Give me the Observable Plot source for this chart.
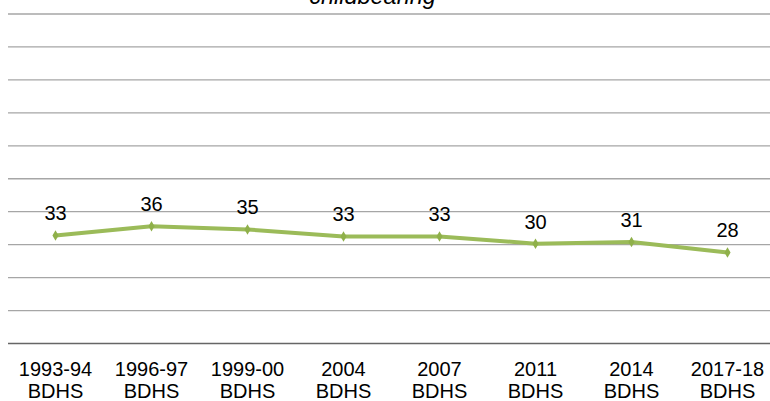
<!DOCTYPE html>
<html><head><meta charset="utf-8">
<script src="https://cdn.jsdelivr.net/npm/d3@7"></script>
<script src="https://cdn.jsdelivr.net/npm/@observablehq/plot@0.6"></script>
<style>body{margin:0;background:#fff;overflow:hidden}</style>
</head><body><div id="chart"></div>
<script>
const surveys = ["1993-94","1996-97","1999-00","2004","2007","2011","2014","2017-18"];
const values = [32.8, 35.6, 34.6, 32.5, 32.5, 30.3, 30.8, 27.6];
const valueLabels = ["33","36","35","33","33","30","31","28"];
const surveySuffix = "BDHS";
const yTicks = [10, 20, 30, 40, 50, 60, 70, 80, 90, 100];
const titleText = "childbearing";

const data = surveys.map((s, i) => ({survey: s, value: values[i], label: valueLabels[i]}));
const font = "'Liberation Sans', Arial, sans-serif";

const svg = Plot.plot({
  width: 770, height: 401,
  marginLeft: 8, marginRight: 0, marginTop: 13.5, marginBottom: 58,
  style: {fontFamily: font, fontSize: "20px", background: "white", color: "#000"},
  x: {type: "point", domain: surveys, range: [55, 727], padding: 0, axis: null},
  y: {domain: [0, 100], range: [343, 13.5], axis: null},
  marks: [
    Plot.ruleY(yTicks, {stroke: "#a6a6a6", strokeWidth: 1.3}),
    Plot.ruleY([0], {stroke: "#666666", strokeWidth: 1.6}),
    Plot.line(data, {x: "survey", y: "value", stroke: "#9bbb59", strokeWidth: 4}),
    Plot.dot(data, {x: "survey", y: "value", symbol: "diamond", r: 3.2, fill: "#8fb04a", stroke: "none"}),
    Plot.text(data, {x: "survey", y: "value", text: "label", dy: -21.5, fontSize: 20, fill: "#000"}),
    Plot.text(data, {x: "survey", frameAnchor: "bottom", text: d => d.survey + "\n" + surveySuffix,
      lineAnchor: "top", dy: 17, lineHeight: 1.1, fontSize: 20, fill: "#000"})
  ]
});

d3.select(svg).append("text")
  .attr("x", 372.5).attr("y", 3.5)
  .attr("text-anchor", "middle")
  .style("font-family", font).style("font-style", "italic").style("font-size", "23.5px")
  .attr("fill", "#000")
  .text(titleText);

document.getElementById("chart").appendChild(svg);
</script>
</body></html>
